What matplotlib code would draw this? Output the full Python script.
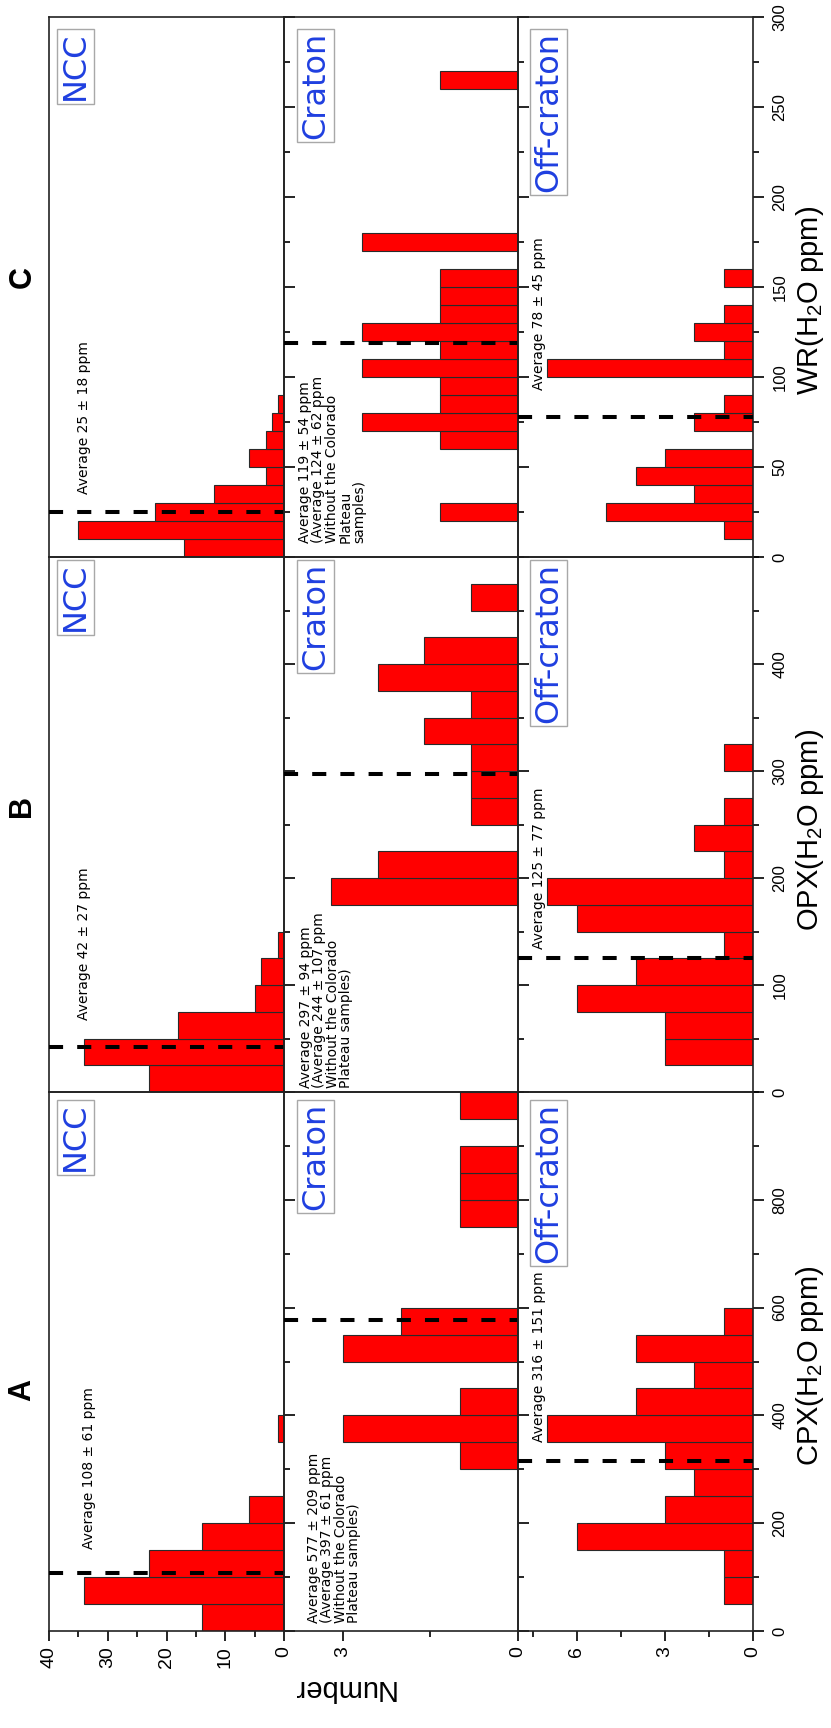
import matplotlib
matplotlib.use("Agg")
import matplotlib.pyplot as plt
from matplotlib.ticker import MultipleLocator, FixedLocator

plt.rcParams['font.family'] = ['Liberation Sans', 'DejaVu Sans']
plt.rcParams['mathtext.fontset'] = 'custom'
plt.rcParams['mathtext.rm'] = 'Liberation Sans'
plt.rcParams['mathtext.it'] = 'Liberation Sans:italic'

# ---- data: histogram bin lower edges and counts ----
# A: CPX (bin width 50)
cpx_ncc_bins = [0, 50, 100, 150, 200, 350]
cpx_ncc_counts = [14, 34, 23, 14, 6, 1]
cpx_craton_bins = [300, 350, 400, 500, 550, 750, 800, 850, 950]
cpx_craton_counts = [1, 3, 1, 3, 2, 1, 1, 1, 1]
cpx_off_bins = [50, 100, 150, 200, 250, 300, 350, 400, 450, 500, 550]
cpx_off_counts = [1, 1, 6, 3, 2, 3, 7, 4, 2, 4, 1]
# B: OPX (bin width 25)
opx_ncc_bins = [0, 25, 50, 75, 100, 125]
opx_ncc_counts = [23, 34, 18, 5, 4, 1]
opx_craton_bins = [175, 200, 250, 275, 300, 325, 350, 375, 400, 450]
opx_craton_counts = [4, 3, 1, 1, 1, 2, 1, 3, 2, 1]
opx_off_bins = [25, 50, 75, 100, 125, 150, 175, 200, 225, 250, 300]
opx_off_counts = [3, 3, 6, 4, 1, 6, 7, 1, 2, 1, 1]
# C: WR (bin width 10)
wr_ncc_bins = [0, 10, 20, 30, 40, 50, 60, 70, 80]
wr_ncc_counts = [17, 35, 22, 12, 3, 6, 3, 2, 1]
wr_craton_bins = [20, 60, 70, 80, 90, 100, 110, 120, 130, 140, 150, 170, 260]
wr_craton_counts = [1, 1, 2, 1, 1, 2, 1, 2, 1, 1, 1, 2, 1]
wr_off_bins = [10, 20, 30, 40, 50, 70, 80, 100, 110, 120, 130, 150]
wr_off_counts = [1, 5, 2, 4, 3, 2, 1, 7, 1, 2, 1, 1]

groups = ["NCC", "Craton", "Off-craton"]
cpx_avg = [108, 577, 316]
opx_avg = [42, 297, 125]
wr_avg = [25, 119, 78]

cpx_text = ["Average 108 ± 61 ppm",
            "Average 577 ± 209 ppm\n(Average 397 ± 61 ppm\nWithout the Colorado\nPlateau samples)",
            "Average 316 ± 151 ppm"]
opx_text = ["Average 42 ± 27 ppm",
            "Average 297 ± 94 ppm\n(Average 244 ± 107 ppm\nWithout the Colorado\nPlateau samples)",
            "Average 125 ± 77 ppm"]
wr_text = ["Average 25 ± 18 ppm",
           "Average 119 ± 54 ppm\n(Average 124 ± 62 ppm\nWithout the Colorado\nPlateau\nsamples)",
           "Average 78 ± 45 ppm"]

# ---- layout (pixels of the 831 x 1728 canvas) ----
W, H = 831, 1728
fig = plt.figure(figsize=(W / 100, H / 100), dpi=100)
col_x = [49, 284, 518, 753]

panels = [
    # letter, top, bottom, ymax, binw, major, minor, count ranges, data, avgs, texts, xlabel, letter y, text pos
    dict(letter="C", top=17, bot=557, ymax=300, binw=10, major=50, minor=25,
         cmax=[40, 3, 8], bins=[wr_ncc_bins, wr_craton_bins, wr_off_bins],
         counts=[wr_ncc_counts, wr_craton_counts, wr_off_counts], avg=wr_avg,
         text=wr_text, tpos=[(0.12, 0.117), (0.06, 0.026), (0.06, 0.309)],
         boxtop=12, label="WR(H$_2$O ppm)", ly=300, lety=277, ticks=True),
    dict(letter="B", top=557, bot=1092, ymax=500, binw=25, major=100, minor=50,
         cmax=[40, 5, 8], bins=[opx_ncc_bins, opx_craton_bins, opx_off_bins],
         counts=[opx_ncc_counts, opx_craton_counts, opx_off_counts], avg=opx_avg,
         text=opx_text, tpos=[(0.12, 0.135), (0.064, 0.008), (0.06, 0.267)],
         boxtop=3, label="OPX(H$_2$O ppm)", ly=830, lety=806, ticks=False),
    dict(letter="A", top=1092, bot=1631, ymax=1000, binw=50, major=200, minor=100,
         cmax=[40, 4, 8], bins=[cpx_ncc_bins, cpx_craton_bins, cpx_off_bins],
         counts=[cpx_ncc_counts, cpx_craton_counts, cpx_off_counts], avg=cpx_avg,
         text=cpx_text, tpos=[(0.14, 0.152), (0.098, 0.014), (0.06, 0.35)],
         boxtop=8, label="CPX(H$_2$O ppm)", ly=1366, lety=1390, ticks=False),
]
# panel A carries the count axis
panels[2]["ticks"] = True
panels[0]["ticks"] = False

count_major = [10, 3, 3]
count_minor = [5, 1.5, 1.5]
box_left = [8, 13, 12]
blue = "#1f3fe0"

for p in panels:
    for j in range(3):
        x0, x1 = col_x[j], col_x[j + 1]
        ax = fig.add_axes([x0 / W, 1 - p["bot"] / H, (x1 - x0) / W, (p["bot"] - p["top"]) / H])
        ax.set_facecolor("none")
        ax.barh(p["bins"][j], p["counts"][j], height=p["binw"], align="edge",
                color="#ff0000", edgecolor="#2a2a2a", linewidth=0.8, zorder=2)
        ax.set_xlim(p["cmax"][j], 0)
        ax.set_ylim(0, p["ymax"])
        ax.axhline(p["avg"][j], color="black", lw=2.9, ls=(0, (3.5, 3.5)), zorder=3)

        for s in ax.spines.values():
            s.set_linewidth(1.2)
            s.set_color("#222222")

        # water-content axis on the right side
        ax.yaxis.set_ticks_position("right")
        top = p["ymax"] + 1 if p["letter"] == "C" else p["ymax"]
        ax.yaxis.set_major_locator(FixedLocator(list(range(0, top, p["major"]))))
        ax.yaxis.set_minor_locator(MultipleLocator(p["minor"]))
        ax.tick_params(axis="y", which="major", direction="out", length=8, width=1.2,
                       labelsize=12, pad=6, labelright=(j == 2), labelrotation=90)
        ax.tick_params(axis="y", which="minor", direction="out", length=4.5, width=1.2)
        for lab in ax.get_yticklabels():
            lab.set_va("center")

        # count axis only on panel A
        if p["letter"] == "A":
            ax.xaxis.set_major_locator(MultipleLocator(count_major[j]))
            ax.xaxis.set_minor_locator(MultipleLocator(count_minor[j]))
            ax.tick_params(axis="x", which="major", direction="out", length=7, width=1.2,
                           labelsize=14, pad=4, labelrotation=90)
            ax.tick_params(axis="x", which="minor", direction="out", length=4, width=1.2)
        else:
            ax.tick_params(axis="x", which="both", bottom=False, labelbottom=False)

        # group label box
        hpx = p["bot"] - p["top"]
        ax.text((box_left[j] + 3) / (x1 - x0), 1 - (p["boxtop"] + 3) / hpx, groups[j],
                transform=ax.transAxes, rotation=90, ha="left", va="top",
                fontsize=23, color=blue, family="DejaVu Sans", zorder=5,
                bbox=dict(boxstyle="square,pad=0.1", fc="white", ec="#a8a8a8", lw=1))

        tx, ty = p["tpos"][j]
        ax.text(tx, ty, p["text"][j], transform=ax.transAxes, rotation=90,
                ha="left", va="bottom", multialignment="left", fontsize=10,
                linespacing=0.95, family="DejaVu Sans", zorder=5)

    fig.text(22.5 / W, 1 - p["lety"] / H, p["letter"], rotation=90, ha="center",
             va="center", fontsize=22, fontweight="bold")
    fig.text(810 / W, 1 - p["ly"] / H, p["label"], rotation=90, ha="center",
             va="center", fontsize=21)

fig.text(343 / W, 1 - 1688 / H, "Number", rotation=180, ha="center", va="center",
         fontsize=21)

fig.savefig("out.png", dpi=100)
